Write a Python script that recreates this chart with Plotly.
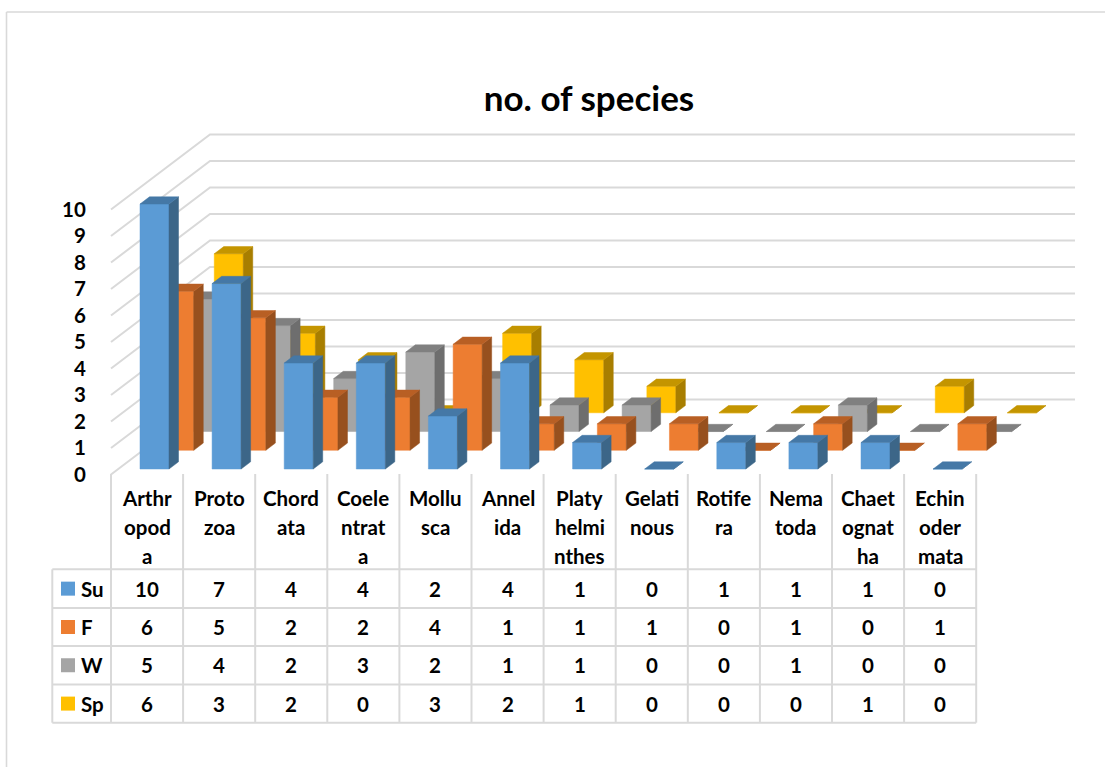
import plotly.graph_objects as go

categories = ["Arthr<br>opod<br>a", "Proto<br>zoa", "Chord<br>ata", "Coele<br>ntrat<br>a", "Mollu<br>sca", "Annel<br>ida",
              "Platy<br>helmi<br>nthes", "Gelati<br>nous", "Rotife<br>ra", "Nema<br>toda", "Chaet<br>ognat<br>ha", "Echin<br>oder<br>mata"]
su = [10, 7, 4, 4, 2, 4, 1, 0, 1, 1, 1, 0]
f = [6, 5, 2, 2, 4, 1, 1, 1, 0, 1, 0, 1]
w = [5, 4, 2, 3, 2, 1, 1, 0, 0, 1, 0, 0]
sp = [6, 3, 2, 0, 3, 2, 1, 0, 0, 0, 1, 0]
series_names = ["Su", "F", "W", "Sp"]
series_values = [su, f, w, sp]
value_ticks = list(range(11))
title_text = "no. of species"

front_colors = ["#5B9BD5", "#ED7D31", "#A5A5A5", "#FFC000"]
side_colors = ["#3C6688", "#97501E", "#6E6E6E", "#A87E00"]
top_colors = ["#4578A6", "#B85F24", "#808080", "#C49500"]
GRID = "#D9D9D9"
FONT = "Lato"
FS = 20.5

W, H = 1105, 767
PX_X, PX_Y = 72.1, 26.5          # pixels per category / per value
X0, Y0 = 111, 474.5              # pixel of category 0 edge and value 0 (front wall)
DEPTH_X, DEPTH_Y = 99 / PX_X, 75 / PX_Y   # oblique depth vector in axis units
GAP, BAR_W = 0.302, 29 / PX_X
D0, D_STEP, D_BAR = 0.073, 0.25, 0.096
WALL_END = (1075 - X0) / PX_X


def xd(px):
    return (px - X0) / PX_X


def yd(py):
    return (Y0 - py) / PX_Y


def poly(xs, ys, pts):
    for a, b in pts + pts[:1]:
        xs.append(a)
        ys.append(b)
    xs.append(None)
    ys.append(None)


def area(xs, ys, color):
    return go.Scatter(x=xs, y=ys, mode="lines", fill="toself", fillcolor=color,
                      line=dict(color=color, width=0.5), hoverinfo="skip", showlegend=False)


traces = []
# back walls: gridlines
gx, gy = [], []
for v in value_ticks:
    gx += [0, DEPTH_X, WALL_END, None]
    gy += [v, v + DEPTH_Y, v + DEPTH_Y, None]
traces.append(go.Scatter(x=gx, y=gy, mode="lines", line=dict(color=GRID, width=2),
                         hoverinfo="skip", showlegend=False))

# bars, back series first
for s in range(3, -1, -1):
    d = D0 + D_STEP * s
    fx, fy, sx, sy, tx, ty = [], [], [], [], [], []
    for i, v in enumerate(series_values[s]):
        x0 = i + GAP + d * DEPTH_X
        x1 = x0 + BAR_W
        b = d * DEPTH_Y
        ddx, ddy = D_BAR * DEPTH_X, D_BAR * DEPTH_Y
        poly(fx, fy, [(x0, b), (x1, b), (x1, b + v), (x0, b + v)])
        poly(sx, sy, [(x1, b), (x1 + ddx, b + ddy), (x1 + ddx, b + ddy + v), (x1, b + v)])
        poly(tx, ty, [(x0, b + v), (x1, b + v), (x1 + ddx, b + v + ddy), (x0 + ddx, b + v + ddy)])
    traces.append(area(fx, fy, front_colors[s]))
    traces.append(area(sx, sy, side_colors[s]))
    traces.append(area(tx, ty, top_colors[s]))

# table geometry
row_lines = [569.3, 608, 646, 684.5, 722.7]
n = len(categories)
shapes = []


def line(x0, y0, x1, y1, color=GRID, width=2):
    shapes.append(dict(type="line", xref="x", yref="y", x0=x0, y0=y0, x1=x1, y1=y1,
                       line=dict(color=color, width=width), layer="below"))


for i in range(n + 1):
    line(i, yd(474), i, yd(row_lines[-1]))
line(xd(52.3), yd(row_lines[0]), xd(52.3), yd(row_lines[-1]))
for r in row_lines:
    line(xd(52.3), yd(r), n, yd(r))
# chart frame
line(xd(6.5), yd(12), xd(W + 5), yd(12), width=1.6)
line(xd(6.5), yd(12), xd(6.5), yd(H + 5), width=1.6)

annotations = []


def text(x, py, s, anchor="center"):
    annotations.append(dict(x=x, y=yd(py), xref="x", yref="y", text=s, showarrow=False,
                            xanchor=anchor, yanchor="middle",
                            font=dict(family=FONT, size=FS, color="#000000", weight=700)))


header_y = [498, 527, 556]
for i, c in enumerate(categories):
    for j, part in enumerate(c.split("<br>")):
        text(i + 0.5, header_y[j], part)

for r, name in enumerate(series_names):
    cy = (row_lines[r] + row_lines[r + 1]) / 2
    text(xd(79), cy, name, "left")
    for i, v in enumerate(series_values[r]):
        text(i + 0.5, cy, str(v))
    traces.append(go.Scatter(x=[xd(68)], y=[yd(cy)], mode="markers",
                             marker=dict(symbol="square", size=14, color=front_colors[r], line=dict(width=0)),
                             hoverinfo="skip", showlegend=False))

fig = go.Figure(traces)
fig.update_layout(
    width=W, height=H, margin=dict(l=0, r=0, t=0, b=0), autosize=False,
    paper_bgcolor="white", plot_bgcolor="white", showlegend=False,
    title=dict(text=title_text, x=589 / W, xanchor="center", y=1 - 99 / H, yanchor="middle",
               font=dict(family=FONT, size=35, color="#000000", weight=700)),
    xaxis=dict(range=[xd(0), xd(W)], visible=False, domain=[0, 1], fixedrange=True),
    yaxis=dict(range=[yd(H), yd(0)], domain=[0, 1], anchor="free", position=X0 / W,
               tickmode="array", tickvals=value_ticks, ticktext=[str(v) for v in value_ticks],
               showgrid=False, zeroline=False, showline=False, ticks="outside", ticklen=21,
               tickcolor="rgba(0,0,0,0)", fixedrange=True,
               tickfont=dict(family=FONT, size=FS, color="#000000", weight=700)),
    shapes=shapes, annotations=annotations,
)
fig.write_html("out.html", config=dict(displayModeBar=False),
               post_script="document.body.style.margin='0';")
